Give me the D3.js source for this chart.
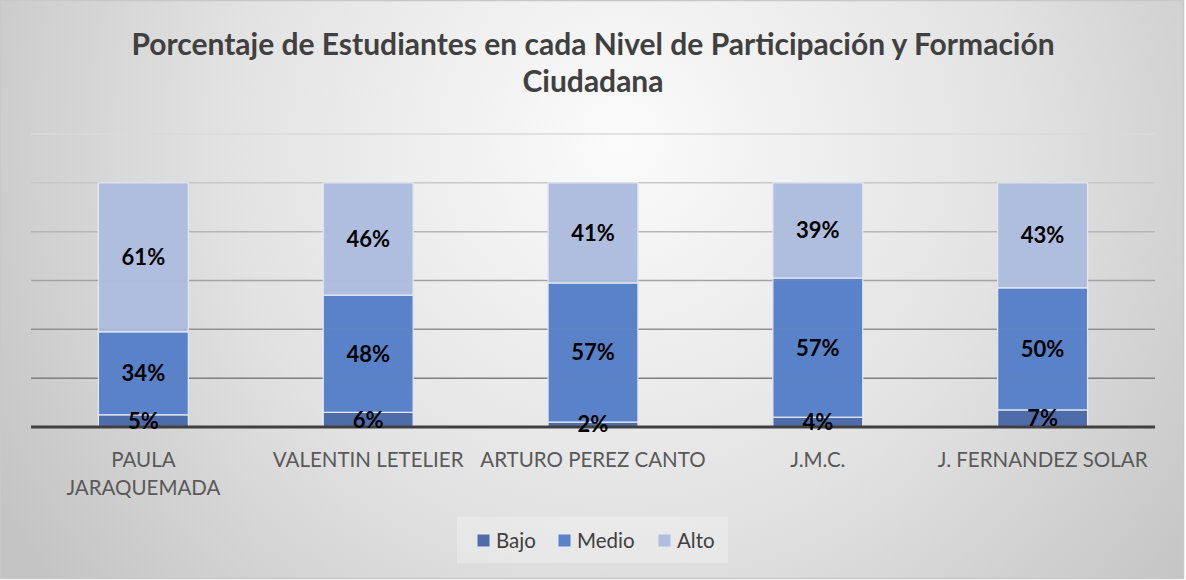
<!DOCTYPE html>
<html><head><meta charset="utf-8">
<script src="https://cdn.jsdelivr.net/npm/d3@7"></script>
<style>html,body{margin:0;padding:0;background:#fff;}svg{display:block;}</style>
</head><body>
<script>
const categories = [["PAULA","JARAQUEMADA"],["VALENTIN LETELIER"],["ARTURO PEREZ CANTO"],["J.M.C."],["J. FERNANDEZ SOLAR"]];
const seriesNames = ["Bajo","Medio","Alto"];
const bajo  = [5, 6, 2, 4, 7];
const medio = [34, 48, 57, 57, 50];
const alto  = [61, 46, 41, 39, 43];
const gridTicks = [20, 40, 60, 80, 100, 120];
const titleLines = ["Porcentaje de Estudiantes en cada Nivel de Participación y Formación", "Ciudadana"];

const W = 1186, H = 580;
const colors = {Bajo:"#4d6ca9", Medio:"#5a82c8", Alto:"#afbddf"};
const font = "Lato, 'Open Sans', sans-serif";

const svg = d3.select("body").append("svg").attr("width", W).attr("height", H);
const defs = svg.append("defs");
const rg = defs.append("radialGradient").attr("id","bg").attr("gradientUnits","userSpaceOnUse")
  .attr("cx", 620).attr("cy", 140).attr("r", 720);
rg.append("stop").attr("offset","0%").attr("stop-color","#fbfbfb");
rg.append("stop").attr("offset","55%").attr("stop-color","#e2e2e2");
rg.append("stop").attr("offset","100%").attr("stop-color","#c4c4c4");

svg.append("rect").attr("x",0.5).attr("y",0.5).attr("width",1183).attr("height",578)
  .attr("fill","url(#bg)").attr("stroke","#c8c8c8").attr("stroke-width",1.5);

const x0 = 31, x1 = 1155;
const x = d3.scaleBand().domain(d3.range(categories.length)).range([x0, x1]).paddingInner(0.6).paddingOuter(0.3);
const y = d3.scaleLinear().domain([0, 120]).range([427, 134]);

const gridColor = d3.scaleLinear().domain([20, 120]).range(["#7f7f7f", "#dadada"]);

const rows = categories.map((c, i) => ({i, Bajo: bajo[i], Medio: medio[i], Alto: alto[i]}));
const stack = d3.stack().keys(seriesNames)(rows);

function drawBars(sel, op) {
  stack.forEach(layer => {
    sel.selectAll(null).data(layer).enter().append("rect")
      .attr("x", d => x(d.data.i))
      .attr("y", d => y(d[1]))
      .attr("width", x.bandwidth())
      .attr("height", d => y(d[0]) - y(d[1]))
      .attr("fill", colors[layer.key]).attr("fill-opacity", op)
      .attr("stroke", "#e4e8f2").attr("stroke-width", 1.2);
  });
}
drawBars(svg.append("g"), 1);

// gridlines
svg.append("g").selectAll("line").data(gridTicks).enter().append("line")
  .attr("x1", x0).attr("x2", x1).attr("y1", d => y(d)).attr("y2", d => y(d))
  .attr("stroke", d => gridColor(d)).attr("stroke-width", 1.5);

// bars again, mostly opaque, so gridlines show faintly through
drawBars(svg.append("g"), 0.88);

// axis baseline
const xAxis = d3.axisBottom(x).tickSize(0).tickFormat("");
const ax = svg.append("g").attr("transform", `translate(0,${y(0)})`).call(xAxis);
ax.select(".domain").attr("stroke", "#404040").attr("stroke-width", 3)
  .attr("d", `M${x0},0H${x1}`);

// category labels
const catG = svg.append("g");
categories.forEach((lines, i) => {
  const cx = x(i) + x.bandwidth()/2;
  const t = catG.append("text").attr("x", cx).attr("y", 467)
    .attr("text-anchor","middle").attr("font-family", font).attr("font-size", 20.5).attr("fill", "#595959");
  lines.forEach((ln, k) => t.append("tspan").attr("x", cx).attr("dy", k === 0 ? 0 : 28).text(ln));
});

// data labels
stack.forEach(layer => {
  svg.append("g").selectAll("text").data(layer).enter().append("text")
    .attr("x", d => x(d.data.i) + x.bandwidth()/2)
    .attr("y", d => (y(d[0]) + y(d[1]))/2)
    .attr("dy", "0.36em")
    .attr("text-anchor","middle").attr("font-family", font).attr("font-weight", 700)
    .attr("font-size", 22).attr("fill", "#000")
    .text(d => (d[1]-d[0]) + "%");
});

// title
const tt = svg.append("text").attr("text-anchor","middle").attr("font-family", font)
  .attr("font-weight", 700).attr("font-size", 30).attr("fill", "#404040");
titleLines.forEach((ln, k) => tt.append("tspan").attr("x", 593).attr("y", 55 + k*37).text(ln));

// legend
svg.append("rect").attr("x", 457).attr("y", 517).attr("width", 271).attr("height", 46)
  .attr("fill", "#ffffff").attr("fill-opacity", 0.25);
const legX = [477, 558, 658];
const lg = svg.append("g");
seriesNames.forEach((s, i) => {
  lg.append("rect").attr("x", legX[i]).attr("y", 534).attr("width", 13).attr("height", 13)
    .attr("fill", colors[s]).attr("stroke", "#e4e8f2").attr("stroke-width", 1);
  lg.append("text").attr("x", legX[i] + 19).attr("y", 548).attr("font-family", font)
    .attr("font-size", 20.5).attr("fill", "#404040").text(s);
});
</script>
</body></html>
